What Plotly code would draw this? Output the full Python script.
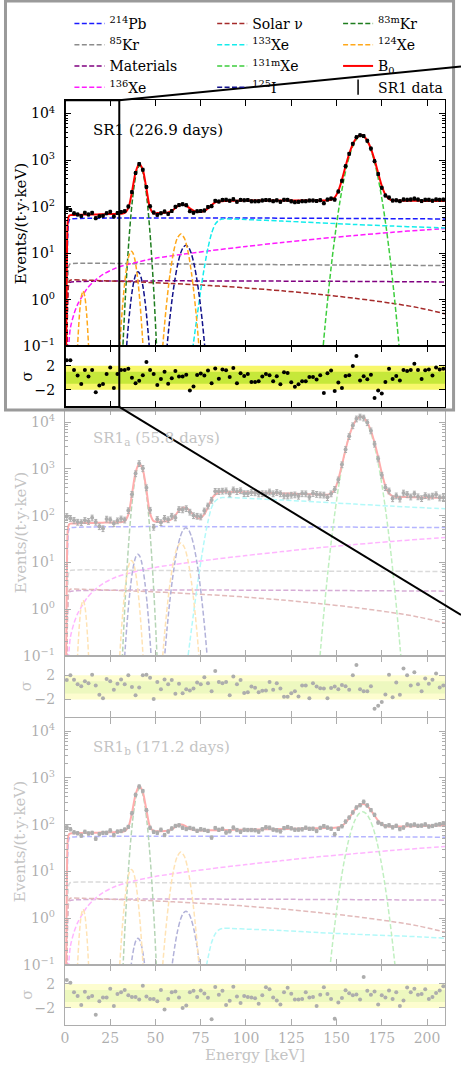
import plotly.graph_objects as go

FONT = "DejaVu Serif"
W, H = 461, 1073

# ---------------- energy bins / axes ----------------
BIN_E = list(range(1, 210, 2))          # 2 keV bin centres
X_RANGE = [0, 210]
X_TICKS = [0, 25, 50, 75, 100, 125, 150, 175, 200]
Y_DECADES = [0.1, 1, 10, 100, 1000, 10000]
Y_DECADE_LABELS = ["10<sup>−1</sup>", "10<sup>0</sup>", "10<sup>1</sup>", "10<sup>2</sup>",
                   "10<sup>3</sup>", "10<sup>4</sup>"]
RES_TICKS = [-2, 2]
RES_LABELS = ["−2", "2"]
SIGMA_BANDS = [2, 1]
ZOOM_E = 30

PANEL_TITLES = ["SR1 (226.9 days)", "SR1<sub>a</sub> (55.8 days)", "SR1<sub>b</sub> (171.2 days)"]

# ---------------- data points (events/(t y keV)) ----------------
DATA1 = [93, 85, 72, 68, 62.7, 74.2, 68.1, 73.9, 56.7, 62.3,
         63.9, 72.2, 77.9, 61.6, 73.1, 77.1, 80.2, 101, 206, 529,
         825, 623, 266, 102, 75, 66.9, 72.2, 78.9, 70.1, 80.6,
         99.6, 108, 113, 107.7, 80.2, 74.5, 79.9, 80.8, 83, 98.7,
         102.6, 133.6, 129, 140, 141.3, 134.7, 144.7, 128, 140, 137,
         139, 130.3, 130.3, 131, 136.4, 139, 137.7, 131, 136.7, 127.6,
         141, 140.4, 130, 124.9, 127.6, 131, 131, 135.7, 135.7, 133,
         138, 118.7, 142, 149.5, 141.7, 212, 360.6, 741, 1365, 2243,
         3111, 3415, 3286, 2611, 1769, 950, 502, 255, 174.5, 157.6,
         135.6, 137, 131.5, 143.2, 141.4, 142.7, 148.9, 142.2, 131.7, 141.3,
         141.4, 134.8, 143.2, 140.9, 141.9]
RES1 = [2.9, 2.9, 1.3, 0.35, -1.05, 1.3, 0.2, 1.3, -2.4, -1.3,
        -1.05, 0.6, 1.7, -1.7, 0.6, 1.3, 1.3, 1.5, 0.0, -0.9,
        -0.5, 0.4, 2.6, 1.3, 0.6, -1.2, -0.2, 1.0, -1.0, -0.1,
        1.1, 0.2, 0.2, 0.5, -2.1, -1.45, 0.45, 0.7, 0.35, 1.2,
        -0.9, 1.55, -0.15, 1.35, 1.25, 0.1, 1.6, -0.9, 0.75, 0.3,
        0.6, -0.7, -0.7, -0.6, 0.2, 0.6, 0.4, -0.6, 0.25, -1.1,
        0.9, 0.8, -0.75, -1.5, -1.1, -0.6, -0.6, 0.1, 0.1, -0.3,
        0.4, -2.55, 0.75, 1.2, -2.2, -0.8, -1.7, 0.3, 0.4, 1.95,
        3.6, -0.45, 0.25, -0.25, 0.5, -3.35, -2.1, -2.6, -0.7, 1.5,
        -0.2, 0.3, -0.45, 1.3, 1.1, 1.3, 2.3, 1.3, -0.2, 1.25,
        1.35, 0.35, 1.7, 1.35, 1.5]

DATA2 = [97, 88, 79.7, 73, 71.4, 79.6, 75.8, 89.9, 72.8, 58.5,
         53, 85, 81.4, 67.7, 78, 85.7, 81.3, 128.7, 289, 795,
         1314, 1035, 398, 131.7, 56.9, 83.4, 71.5, 88.3, 82.4, 98,
         90.4, 136.3, 134.2, 142.4, 120, 100.5, 98, 94.8, 127, 162,
         215.5, 334, 331.6, 337.7, 341.9, 294.8, 358.6, 330.4, 343.9, 298.2,
         298.8, 317.1, 311, 294, 297.9, 296.9, 323.8, 296, 316.2, 296.6,
         267.5, 266.2, 277, 281, 262.7, 296.8, 295.3, 252.2, 300.3, 287.9,
         280.7, 278.1, 246.5, 295.5, 367.3, 587.4, 1239, 2617, 4983, 8478,
         11863, 13048, 12408, 9849, 6588, 3417, 1644, 741, 401, 340.6,
         231.8, 266.9, 228.7, 307.4, 285.9, 253.5, 292.7, 255.1, 233.2, 270.1,
         253.7, 264.5, 282.6, 241, 245.8]
RES2 = [1.2, 2.0, 1.25, 0.5, 0.2, 1.0, 0.7, 2.1, 0.3, -1.2,
        -1.8, 1.4, 1.0, -0.4, 0.6, 1.3, 0.5, 2.0, 0.05, -1.3,
        0.0, 2.0, 2.1, 1.6, -1.9, 0.9, -0.3, 1.3, 0.5, 1.2,
        -1.05, 0.6, -0.95, -0.3, -0.5, -0.2, 0.8, 0.5, 1.65, 0.7,
        -0.65, 2.7, 0.9, 0.7, 0.9, -1.3, 1.8, 0.5, 1.2, -0.9,
        -0.8, 0.15, -0.05, -0.8, -0.55, -0.5, 0.9, -0.4, 0.7, -0.2,
        -1.55, -1.55, -0.95, -0.65, -1.5, 0.3, 0.3, -1.8, 0.7, 0.15,
        -0.15, -0.2, -1.8, -0.1, 0.15, -0.3, 0.4, 0.2, -0.4, 2.0,
        3.7, -0.3, -0.65, -0.65, 0.2, -3.5, -3.0, -2.4, -1.15, 2.1,
        -1.6, 0.8, -1.2, 3.1, 2.0, 0.3, 2.5, 0.5, -0.65, 1.45,
        0.6, 1.25, 2.3, 0.0, 0.3]

DATA3 = [88, 80, 68.6, 65.7, 58.4, 70.6, 65.1, 67, 50.2, 62.9,
         66.9, 67.2, 75.5, 59.8, 71.2, 73.3, 78.8, 89.8, 176.2, 437.2,
         659.5, 526.6, 205, 86.2, 70.3, 67.2, 78.2, 60.2, 71.7, 83.3,
         94.2, 97.1, 86.3, 81, 85.4, 81.7, 74, 80.1, 77.4, 73.7,
         53, 85, 77.7, 81.7, 68.2, 72.5, 86.6, 77.1, 70.8, 78.1,
         77.1, 77.1, 76.4, 71.4, 80, 88.3, 86.5, 78.6, 75.9, 72,
         84.5, 89.3, 83.7, 78.3, 78.7, 79.5, 86.5, 81.7, 82.3, 73.5,
         85.5, 93.4, 86.7, 82.2, 62.6, 81.6, 92.6, 116.7, 142.4, 183.4,
         234.6, 262.4, 311.2, 259.2, 205.8, 163, 111.5, 103.7, 92.9, 97.3,
         87.8, 94.9, 80.6, 87, 101.2, 96.5, 100.8, 94.7, 95.8, 101.5,
         91.7, 94.1, 99.2, 102.3, 107.4]
RES3 = [2.65, 2.2, 0.6, 0.0, -1.5, 0.7, -0.25, 0.0, -3.15, -0.9,
        -0.25, -0.25, 1.2, -1.7, 0.3, 0.6, 1.0, 0.1, -0.2, -0.2,
        -0.6, 1.7, -0.1, -0.5, -0.5, -0.9, 1.0, -2.25, -0.5, 0.6,
        0.75, -0.25, -2.0, -1.6, 0.6, 0.85, -0.2, 0.9, 0.4, -0.3,
        -3.9, 1.5, 0.2, 0.85, -1.5, -0.8, 1.55, -0.1, -1.2, 0.0,
        -0.2, -0.25, -0.4, -1.3, 0.1, 1.45, 1.1, -0.25, -0.75, -1.45,
        0.6, 1.35, 0.35, -0.6, -0.6, -0.5, 0.6, -0.25, -0.2, -1.7,
        0.2, 1.45, 0.3, -0.5, -3.8, -1.1, -0.35, 0.95, 0.45, 0.1,
        0.25, -0.6, 3.15, 0.85, 0.2, 0.75, -1.45, 0.1, -0.25, 0.9,
        -0.5, 0.6, -1.7, -0.75, 1.4, 0.6, 1.2, 0.2, 0.3, 1.1,
        -0.5, -0.2, 0.5, 0.9, 1.6]
DATA_ERR_PCT = [7, 14, 8]

# ---------------- total background model B0 ----------------
B0_E = [0.6, 0.9, 1.2, 1.6, 2.2] + list(range(3, 210, 2)) + [210]
B0_Y1 = [0.05, 1.5, 20, 52, 63,
         65.8, 66.0, 66.4, 67.3, 67.6, 67.3, 67.7, 68.1, 68.5, 69.0,
         69.3, 69.6, 69.9, 70.2, 70.7, 73.5, 93, 206, 541, 833,
         617, 242, 94.5, 72, 73, 73.2, 73.7, 75.4, 81.2, 93.3,
         107, 112, 104.7, 92, 82.3, 77.5, 77, 81, 92, 108,
         123.5, 130, 131, 133,
         134, 134, 134, 135, 135, 135, 135, 135, 135, 135,
         135, 135, 135, 135, 135, 135, 135, 135, 135, 135,
         135, 135, 135, 135, 135.5, 135.5, 136,
         137, 141, 158, 219, 380, 736, 1356, 2189, 2996, 3430,
         3278, 2618, 1757, 1012, 530, 281, 180, 147, 137, 135,
         134.5, 134.5, 134, 134, 133.5, 133.5, 133, 133, 132.5, 132.5,
         132, 132, 132, 132]
B0_Y2 = [0.05, 1.5, 20, 53, 64.5,
         67.5, 67.8, 68.2, 69.2, 69.5, 69.2, 69.5, 69.9, 70.3, 70.8,
         71.1, 71.4, 71.7, 72, 72.5, 76, 104.8, 288, 839, 1314,
         962, 352, 112, 76.3, 74.3, 74.5, 75.1, 77.3, 85, 102.8,
         128.4, 147.7, 146.7, 126.6, 103.5, 89.2, 89.2, 107, 152, 227,
         282, 313, 322, 323,
         322, 321, 320, 319, 317, 315.5, 314, 312, 310.5, 309,
         307, 305.5, 304, 302, 300.5, 299, 297.5, 296, 294, 292.5,
         291, 289.5, 288, 286.5, 285, 283.5, 282,
         282, 297.6, 364, 596, 1223, 2605, 5016, 8265, 11399, 13088,
         12493, 9924, 6569, 3665, 1793, 822, 429, 298, 262, 252,
         251, 250, 249, 248, 247, 246, 245, 244, 243, 242,
         241.5, 241, 240.5, 240]
B0_Y3 = [0.05, 1.4, 19, 51, 62,
         65, 65.3, 65.7, 66.6, 66.8, 66.5, 67, 67.4, 67.8, 68.3,
         68.6, 68.9, 69.2, 69.5, 69.9, 73.1, 89.2, 178, 440, 670,
         501, 206, 89.4, 73.2, 72.3, 72.5, 73, 74.6, 79.7, 89.4,
         98.8, 99.6, 91.2, 81.8, 76.7, 75.1, 74.9, 75.1, 75.4, 75.8,
         76.2, 76.5, 76.7, 77,
         77.2, 77.5, 77.7, 77.9, 78.1, 78.3, 78.6, 78.8, 79.1, 79.4,
         79.6, 79.9, 80.1, 80.4, 80.7, 80.9, 81.2, 81.6, 81.9, 82.3,
         82.6, 82.9, 83.3, 83.6, 83.9, 84.2, 84.5,
         84.8, 85.3, 86.2, 88.5, 94.9, 110, 138.8, 182.5, 232, 269,
         276.4, 250.3, 203.9, 156.8, 122.3, 103, 94.5, 91.5, 91, 91.1,
         91.5, 91.8, 92.2, 92.6, 93, 93.4, 93.8, 94.2, 95, 95.4,
         95.8, 96.2, 96.6, 96.8]

# ---------------- background components ----------------
PB214_E = [0.75, 1.1, 1.5, 2.0, 2.6, 3.5, 210]
PB214_Y1 = [0.02, 2.7, 22, 46, 53, 54.5, 54.5]
PB214_Y2 = [0.02, 2.8, 22.5, 47, 54.2, 55.6, 55.6]
PB214_Y3 = [0.02, 2.7, 21.5, 45.5, 52.5, 54, 54]

KR85_E = [0.75, 1.1, 1.5, 2.0, 2.6, 3.5, 50, 100, 150, 210]
KR85_Y1 = [0.02, 0.3, 2.4, 5.1, 5.8, 6.0, 5.9, 5.75, 5.6, 5.45]
KR85_Y2 = [0.02, 0.34, 2.7, 5.8, 6.6, 6.8, 6.7, 6.55, 6.45, 6.4]
KR85_Y3 = [0.02, 0.29, 2.3, 4.9, 5.6, 5.8, 5.7, 5.6, 5.5, 5.45]

MAT_E = [0.75, 1.1, 1.5, 2.0, 2.6, 3.5, 210]
MAT_Y = [0.02, 0.12, 0.95, 2.05, 2.35, 2.42, 2.42]

XE136_E = [1.0, 1.5, 2, 3, 5, 7, 9, 12, 16, 21, 28, 38, 50, 65, 80, 100, 120, 140, 160, 180, 200, 210]
XE136_Y = [0.02, 0.06, 0.1, 0.25, 0.5, 0.8, 1.1, 1.7, 2.5, 3.5, 4.8, 6.2, 7.8, 9.5, 11.3, 14, 17,
           20.5, 24, 28, 32, 34]

SOLAR_E = [0.75, 1.1, 1.5, 2.0, 2.6, 3.5, 10, 20, 30, 40, 50, 60, 70, 80, 90, 100, 120, 140, 160,
           180, 195, 210]
SOLAR_Y = [0.02, 0.13, 1.05, 2.25, 2.6, 2.68, 2.65, 2.58, 2.5, 2.42, 2.33, 2.23, 2.12, 2.02, 1.92,
           1.8, 1.56, 1.32, 1.08, 0.85, 0.68, 0.5]

XE133_E = [67, 69, 71, 73, 75, 77, 79, 81, 83, 85, 87, 92, 100, 120, 140, 160, 180, 200, 210]
XE133_Y1 = [0.007, 0.03, 0.12, 0.45, 1.6, 5.0, 13, 27, 42, 51, 54.5, 54.5, 53, 49, 45, 41.5, 38.5, 36, 35]
XE133_Y2 = [0.05, 0.2, 0.8, 3.0, 10, 30, 75, 150, 205, 235, 244, 244, 236, 216, 196, 177, 160, 146, 141]
XE133_Y3 = [0.00007, 0.0003, 0.0013, 0.005, 0.018, 0.055, 0.14, 0.3, 0.46, 0.56, 0.6, 0.6, 0.58,
            0.54, 0.49, 0.45, 0.42, 0.39, 0.37]

XE131_E1 = [139.6, 141.6, 143.6, 145.6, 147.6, 149.6, 151.6, 153.6, 155.6, 157.6, 159.6, 161.6, 163.6,
            165.6, 167.6, 169.6, 171.6, 173.6, 175.6, 177.6, 179.6, 181.6, 183.6, 185.6, 187.6]
XE131_Y1 = [0.004, 0.035, 0.26, 1.55, 7.8, 32, 110, 310, 726, 1409, 2260, 3003, 3300,
            3003, 2260, 1409, 726, 310, 110, 32, 7.8, 1.55, 0.26, 0.035, 0.004]
XE131_E2 = [139.2, 141.2, 143.2, 145.2, 147.2, 149.2, 151.2, 153.2, 155.2, 157.2, 159.2, 161.2, 163.2,
            165.2, 167.2, 169.2, 171.2, 173.2, 175.2, 177.2, 179.2, 181.2, 183.2, 185.2, 187.2]
XE131_Y2 = [0.016, 0.138, 1.0, 6.1, 30.4, 125, 430, 1213, 2838, 5508, 8837, 11739, 12900,
            11739, 8837, 5508, 2838, 1213, 430, 125, 30.4, 6.1, 1.0, 0.138, 0.016]
XE131_E3 = [140.4, 142.4, 144.4, 146.4, 148.4, 150.4, 152.4, 154.4, 156.4, 158.4, 160.4, 162.4, 164.4,
            166.4, 168.4, 170.4, 172.4, 174.4, 176.4, 178.4, 180.4, 182.4, 184.4, 186.4, 188.4]
XE131_Y3 = [0.00024, 0.002, 0.0148, 0.089, 0.448, 1.84, 6.33, 17.9, 41.8, 81.1, 130, 173, 190,
            173, 130, 81.1, 41.8, 17.9, 6.33, 1.84, 0.448, 0.089, 0.0148, 0.002, 0.00024]

I125_E = [30.3, 31.3, 32.3, 33.3, 34.3, 35.3, 36.3, 37.3, 38.3, 39.3, 40.3, 41.3, 42.3, 43.3, 44.3,
          45.3, 46.3, 47.3, 48.3, 49.3, 50.3, None,
          53.3, 54.8, 56.3, 57.8, 59.3, 60.8, 62.3, 63.8, 65.3, 66.8, 68.3, 69.8, 71.3, 72.8, 74.3,
          75.8, 77.3, 78.8, 80.3]
I125_Y1 = [0.0003, 0.0019, 0.0096, 0.039, 0.134, 0.376, 0.88, 1.71, 2.74, 3.64, 4.0, 3.64, 2.74, 1.71,
           0.88, 0.376, 0.134, 0.039, 0.0096, 0.0019, 0.0003, None,
           0.0034, 0.02, 0.093, 0.36, 1.12, 2.83, 5.85, 9.8, 13.35, 14.8, 13.35, 9.8, 5.85, 2.83, 1.12,
           0.36, 0.093, 0.02, 0.0034]
I125_Y2 = [0.0012, 0.007, 0.036, 0.147, 0.5, 1.41, 3.3, 6.4, 10.3, 13.65, 15, 13.65, 10.3, 6.4, 3.3,
           1.41, 0.5, 0.147, 0.036, 0.007, 0.0012, None,
           0.0127, 0.074, 0.35, 1.34, 4.16, 10.5, 21.7, 36.4, 49.6, 55, 49.6, 36.4, 21.7, 10.5, 4.16,
           1.34, 0.35, 0.074, 0.0127]
I125_Y3 = [0.000029, 0.00017, 0.0009, 0.0036, 0.0124, 0.035, 0.081, 0.158, 0.253, 0.337, 0.37, 0.337,
           0.253, 0.158, 0.081, 0.035, 0.0124, 0.0036, 0.0009, 0.00017, 0.000029, None,
           0.00032, 0.0019, 0.0088, 0.034, 0.106, 0.267, 0.553, 0.927, 1.263, 1.4, 1.263, 0.927, 0.553,
           0.267, 0.106, 0.034, 0.0088, 0.0019, 0.00032]

KR83_E = [30.3, 31.3, 32.3, 33.3, 34.3, 35.3, 36.3, 37.3, 38.3, 39.3, 40.3, 41.3, 42.3, 43.3, 44.3,
          45.3, 46.3, 47.3, 48.3, 49.3, 50.3, 51.3, 52.3]
KR83_Y1 = [0.0028, 0.025, 0.175, 1.03, 4.8, 18.5, 57.5, 145, 300, 503, 686, 760, 686, 503, 300, 145,
           57.5, 18.5, 4.8, 1.03, 0.175, 0.025, 0.0028]
KR83_Y2 = [0.0046, 0.041, 0.283, 1.66, 7.8, 29.9, 93, 235, 486, 814, 1109, 1230, 1109, 814, 486, 235,
           93, 29.9, 7.8, 1.66, 0.283, 0.041, 0.0046]
KR83_Y3 = [0.0022, 0.02, 0.138, 0.81, 3.8, 14.6, 45.4, 115, 237, 397, 541, 600, 541, 397, 237, 115,
           45.4, 14.6, 3.8, 0.81, 0.138, 0.02, 0.0022]

XE124_E = [6, 7, 8, 9, 10, 11, 12, 13, 14, None,
           30, 31, 32, 33, 34, 35, 36, 36.7, 37.5, 38.5, 39.5, 40.5, 41.5, 42.5, 43.5, None,
           53, 54, 55, 56, 57, 58, 60, 62, 64, 66, 68, 70, 71, 72, 73, 74, 75]
XE124_Y = [0.014, 0.108, 0.48, 1.15, 1.55, 1.15, 0.48, 0.108, 0.014, None,
           0.068, 0.28, 0.9, 2.33, 4.8, 7.9, 10.4, 11, 10.2, 7.6, 4.5, 2.14, 0.81, 0.24, 0.058, None,
           0.033, 0.1, 0.29, 0.74, 1.7, 3.5, 10.7, 20.8, 26, 20.8, 10.7, 3.5, 1.7, 0.74, 0.29, 0.1, 0.035]

for a, b in [(DATA1, BIN_E), (DATA2, BIN_E), (DATA3, BIN_E), (RES1, BIN_E), (RES2, BIN_E),
             (RES3, BIN_E), (B0_Y1, B0_E), (B0_Y2, B0_E), (B0_Y3, B0_E), (XE133_Y1, XE133_E),
             (XE131_Y1, XE131_E1), (I125_Y1, I125_E), (KR83_Y1, KR83_E), (XE124_Y, XE124_E),
             (SOLAR_Y, SOLAR_E), (XE136_Y, XE136_E)]:
    assert len(a) == len(b), (len(a), len(b))

# ---------------- styling ----------------
COL = {
    "pb214": "#1a1aff", "kr85": "#8c8c8c", "mat": "#800080", "xe136": "#ff1aff",
    "solar": "#a52a2a", "xe133": "#14ecec", "xe131": "#3ccd3c", "i125": "#10108a",
    "kr83": "#1e7d1e", "xe124": "#ffa81a", "b0": "#ff0000",
}
NAMES = {
    "pb214": "<sup>214</sup>Pb", "kr85": "<sup>85</sup>Kr", "mat": "Materials",
    "xe136": "<sup>136</sup>Xe", "solar": "Solar ν", "xe133": "<sup>133</sup>Xe",
    "xe131": "<sup>131m</sup>Xe", "i125": "<sup>125</sup>I", "kr83": "<sup>83m</sup>Kr",
    "xe124": "<sup>124</sup>Xe", "b0": "B<sub>0</sub>",
}
LEGEND_OF = {
    "pb214": "legend", "kr85": "legend", "mat": "legend", "xe136": "legend",
    "solar": "legend2", "xe133": "legend2", "xe131": "legend2", "i125": "legend2",
    "kr83": "legend3", "xe124": "legend3", "b0": "legend3",
}
LEGEND_RANK = {"pb214": 1, "kr85": 2, "mat": 3, "xe136": 4, "solar": 1, "xe133": 2, "xe131": 3,
               "i125": 4, "kr83": 1, "xe124": 2, "b0": 3}

PANEL_COMPONENTS = [
    {"pb214": (PB214_E, PB214_Y1), "kr85": (KR85_E, KR85_Y1), "mat": (MAT_E, MAT_Y),
     "xe136": (XE136_E, XE136_Y), "solar": (SOLAR_E, SOLAR_Y), "xe133": (XE133_E, XE133_Y1),
     "xe131": (XE131_E1, XE131_Y1), "i125": (I125_E, I125_Y1), "kr83": (KR83_E, KR83_Y1),
     "xe124": (XE124_E, XE124_Y)},
    {"pb214": (PB214_E, PB214_Y2), "kr85": (KR85_E, KR85_Y2), "mat": (MAT_E, MAT_Y),
     "xe136": (XE136_E, XE136_Y), "solar": (SOLAR_E, SOLAR_Y), "xe133": (XE133_E, XE133_Y2),
     "xe131": (XE131_E2, XE131_Y2), "i125": (I125_E, I125_Y2), "kr83": (KR83_E, KR83_Y2),
     "xe124": (XE124_E, XE124_Y)},
    {"pb214": (PB214_E, PB214_Y3), "kr85": (KR85_E, KR85_Y3), "mat": (MAT_E, MAT_Y),
     "xe136": (XE136_E, XE136_Y), "solar": (SOLAR_E, SOLAR_Y), "xe133": (XE133_E, XE133_Y3),
     "xe131": (XE131_E3, XE131_Y3), "i125": (I125_E, I125_Y3), "kr83": (KR83_E, KR83_Y3),
     "xe124": (XE124_E, XE124_Y)},
]
PANEL_B0 = [B0_Y1, B0_Y2, B0_Y3]
PANEL_DATA = [DATA1, DATA2, DATA3]
PANEL_RES = [RES1, RES2, RES3]

# ---------------- layout geometry (pixels -> paper) ----------------
def py(p):
    return 1 - p / H

XDOM = [61.5 / W, 445.0 / W]
MAIN_PX = [(101, 349), (412, 660.7), (723.4, 972)]
RES_PX = [(349, 410), (660.7, 722.3), (972, 1032.7)]
MAIN_YRANGE = [-1, 4.285]
RES_YRANGE = [-4.85, 5.2]

fig = go.Figure()
DASH = "5px,2.4px"

for i in range(3):
    xm = "x" if i == 0 else f"x{2 * i + 1}"
    ym = "y" if i == 0 else f"y{2 * i + 1}"
    xr = f"x{2 * i + 2}"
    yr = f"y{2 * i + 2}"
    comps = PANEL_COMPONENTS[i]
    for key in ["pb214", "kr85", "mat", "xe136", "solar", "xe133", "xe131", "i125", "kr83", "xe124"]:
        ex, ey = comps[key]
        fig.add_trace(go.Scatter(
            x=ex, y=ey, mode="lines", name=NAMES[key], xaxis=xm, yaxis=ym,
            line=dict(color=COL[key], width=1.5, dash=DASH, shape="spline", smoothing=0.8),
            connectgaps=False, showlegend=(i == 0), legend=LEGEND_OF[key],
            legendrank=LEGEND_RANK[key], hoverinfo="skip"))
    fig.add_trace(go.Scatter(
        x=B0_E, y=PANEL_B0[i], mode="lines", name=NAMES["b0"], xaxis=xm, yaxis=ym,
        line=dict(color=COL["b0"], width=2, shape="spline", smoothing=0.8),
        showlegend=(i == 0), legend="legend3", legendrank=3, hoverinfo="skip"))
    fig.add_trace(go.Scatter(
        x=BIN_E, y=PANEL_DATA[i], mode="markers", name="SR1 data", xaxis=xm, yaxis=ym,
        marker=dict(color="black", size=4),
        error_y=dict(type="percent", value=DATA_ERR_PCT[i], color="black", thickness=1, width=1.5),
        showlegend=False, hoverinfo="skip"))
    fig.add_trace(go.Scatter(
        x=BIN_E, y=PANEL_RES[i], mode="markers", xaxis=xr, yaxis=yr,
        marker=dict(color="black", size=4), showlegend=False, hoverinfo="skip"))

# legend-only entry for the data (errorbar glyph)
fig.add_trace(go.Scatter(x=[None], y=[None], mode="markers", name="SR1 data", xaxis="x", yaxis="y",
                         marker=dict(symbol="line-ns-open", size=11, color="black",
                                     line=dict(width=1.5, color="black")),
                         legend="legend3", legendrank=4, showlegend=True))

minor_vals = [m * d for d in Y_DECADES[:-1] for m in range(2, 10)]
axis_common = dict(showline=True, linecolor="black", linewidth=1.2, mirror="allticks",
                   ticks="inside", tickcolor="black", showgrid=False, zeroline=False)
layout = dict(
    width=W, height=H, margin=dict(l=0, r=0, t=0, b=0),
    paper_bgcolor="white", plot_bgcolor="white",
    font=dict(family=FONT, color="black", size=14),
)
for i in range(3):
    nm = 2 * i + 1
    nr = 2 * i + 2
    xm_key = "xaxis" if nm == 1 else f"xaxis{nm}"
    ym_key = "yaxis" if nm == 1 else f"yaxis{nm}"
    m0, m1 = MAIN_PX[i]
    r0, r1 = RES_PX[i]
    layout[xm_key] = dict(domain=XDOM, anchor="y" if nm == 1 else f"y{nm}", range=X_RANGE,
                          tickvals=X_TICKS, showticklabels=False, ticklen=6, **axis_common)
    layout[ym_key] = dict(domain=[py(m1), py(m0)], anchor="x" if nm == 1 else f"x{nm}",
                          type="log", range=MAIN_YRANGE, tickvals=Y_DECADES,
                          ticktext=Y_DECADE_LABELS, ticklen=6,
                          tickfont=dict(family=FONT, size=14, color="black"),
                          ticklabelstandoff=6,
                          minor=dict(tickvals=minor_vals, ticks="inside", ticklen=3,
                                     tickcolor="black", showgrid=False),
                          **axis_common)
    layout[f"xaxis{nr}"] = dict(domain=XDOM, anchor=f"y{nr}", range=X_RANGE, tickvals=X_TICKS,
                                showticklabels=(i == 2), ticklen=6,
                                tickfont=dict(family=FONT, size=14, color="black"),
                                **axis_common)
    layout[f"yaxis{nr}"] = dict(domain=[py(r1), py(r0)], anchor=f"x{nr}", range=RES_YRANGE,
                                tickvals=RES_TICKS, ticktext=RES_LABELS, ticklen=6,
                                tickfont=dict(family=FONT, size=14, color="black"),
                                ticklabelstandoff=6, **axis_common)

leg_common = dict(y=1 - 8 / H, yanchor="top", xanchor="left", bgcolor="rgba(0,0,0,0)",
                  font=dict(family=FONT, size=14, color="black"), traceorder="normal",
                  itemwidth=30, tracegroupgap=0)
layout["legend"] = dict(x=66 / W, **leg_common)
layout["legend2"] = dict(x=210 / W, **leg_common)
layout["legend3"] = dict(x=337 / W, **leg_common)
fig.update_layout(**layout)

# residual sigma bands
band_cols = {2: "#f7f76a", 1: "#c6e83a"}
for i in range(3):
    nr = 2 * i + 2
    for s in SIGMA_BANDS:
        fig.add_shape(type="rect", xref=f"x{nr}", yref=f"y{nr}", x0=X_RANGE[0], x1=X_RANGE[1],
                      y0=-s, y1=s, fillcolor=band_cols[s], line=dict(width=0), layer="below")

# annotations: panel titles and axis titles
FADE_TXT = "#c4c4c4"
for i in range(3):
    nm = 2 * i + 1
    fig.add_annotation(text=PANEL_TITLES[i], xref="x" if nm == 1 else f"x{nm}",
                       yref="y" if nm == 1 else f"y{nm}", x=14.5, y=3.65, xanchor="left",
                       yanchor="middle", showarrow=False,
                       font=dict(family=FONT, size=15, color="black" if i == 0 else FADE_TXT))
    m0, m1 = MAIN_PX[i]
    r0, r1 = RES_PX[i]
    fig.add_annotation(text="Events/(t·y·keV)", xref="paper", yref="paper", x=17 / W,
                       y=py((m0 + m1) / 2), textangle=-90, showarrow=False,
                       xanchor="center", yanchor="middle",
                       font=dict(family=FONT, size=15, color="black" if i == 0 else FADE_TXT))
    fig.add_annotation(text="σ", xref="paper", yref="paper", x=23 / W, y=py((r0 + r1) / 2),
                       textangle=-90, showarrow=False, xanchor="center", yanchor="middle",
                       font=dict(family=FONT, size=15, color="black" if i == 0 else FADE_TXT))
fig.add_annotation(text="Energy [keV]", xref="paper", yref="paper", x=(XDOM[0] + XDOM[1]) / 2,
                   y=py(1063), showarrow=False, xanchor="center", yanchor="middle",
                   font=dict(family=FONT, size=15, color=FADE_TXT))

# fade the two lower panels
fig.add_shape(type="rect", xref="paper", yref="paper", x0=0, x1=1, y0=0, y1=py(411),
              fillcolor="white", opacity=0.68, line=dict(width=0), layer="above")
# grey frame around the highlighted panel
fig.add_shape(type="rect", xref="paper", yref="paper", x0=1.5 / W, x1=453.5 / W,
              y0=py(413), y1=py(1), line=dict(color="#9a9a9a", width=3), layer="above")
# zoom box and connector lines
x_zoom = XDOM[0] + (ZOOM_E - X_RANGE[0]) / (X_RANGE[1] - X_RANGE[0]) * (XDOM[1] - XDOM[0])
fig.add_shape(type="rect", xref="x", yref="paper", x0=X_RANGE[0], x1=ZOOM_E,
              y0=py(RES_PX[0][1]), y1=py(MAIN_PX[0][0]), line=dict(color="black", width=2),
              layer="above")
fig.add_shape(type="line", xref="paper", yref="paper", x0=x_zoom, y0=py(MAIN_PX[0][0]),
              x1=1.0, y1=py(67), line=dict(color="black", width=2), layer="above")
fig.add_shape(type="line", xref="paper", yref="paper", x0=x_zoom, y0=py(RES_PX[0][1]),
              x1=1.0, y1=py(619.5), line=dict(color="black", width=2), layer="above")

fig.write_html("out.html")
